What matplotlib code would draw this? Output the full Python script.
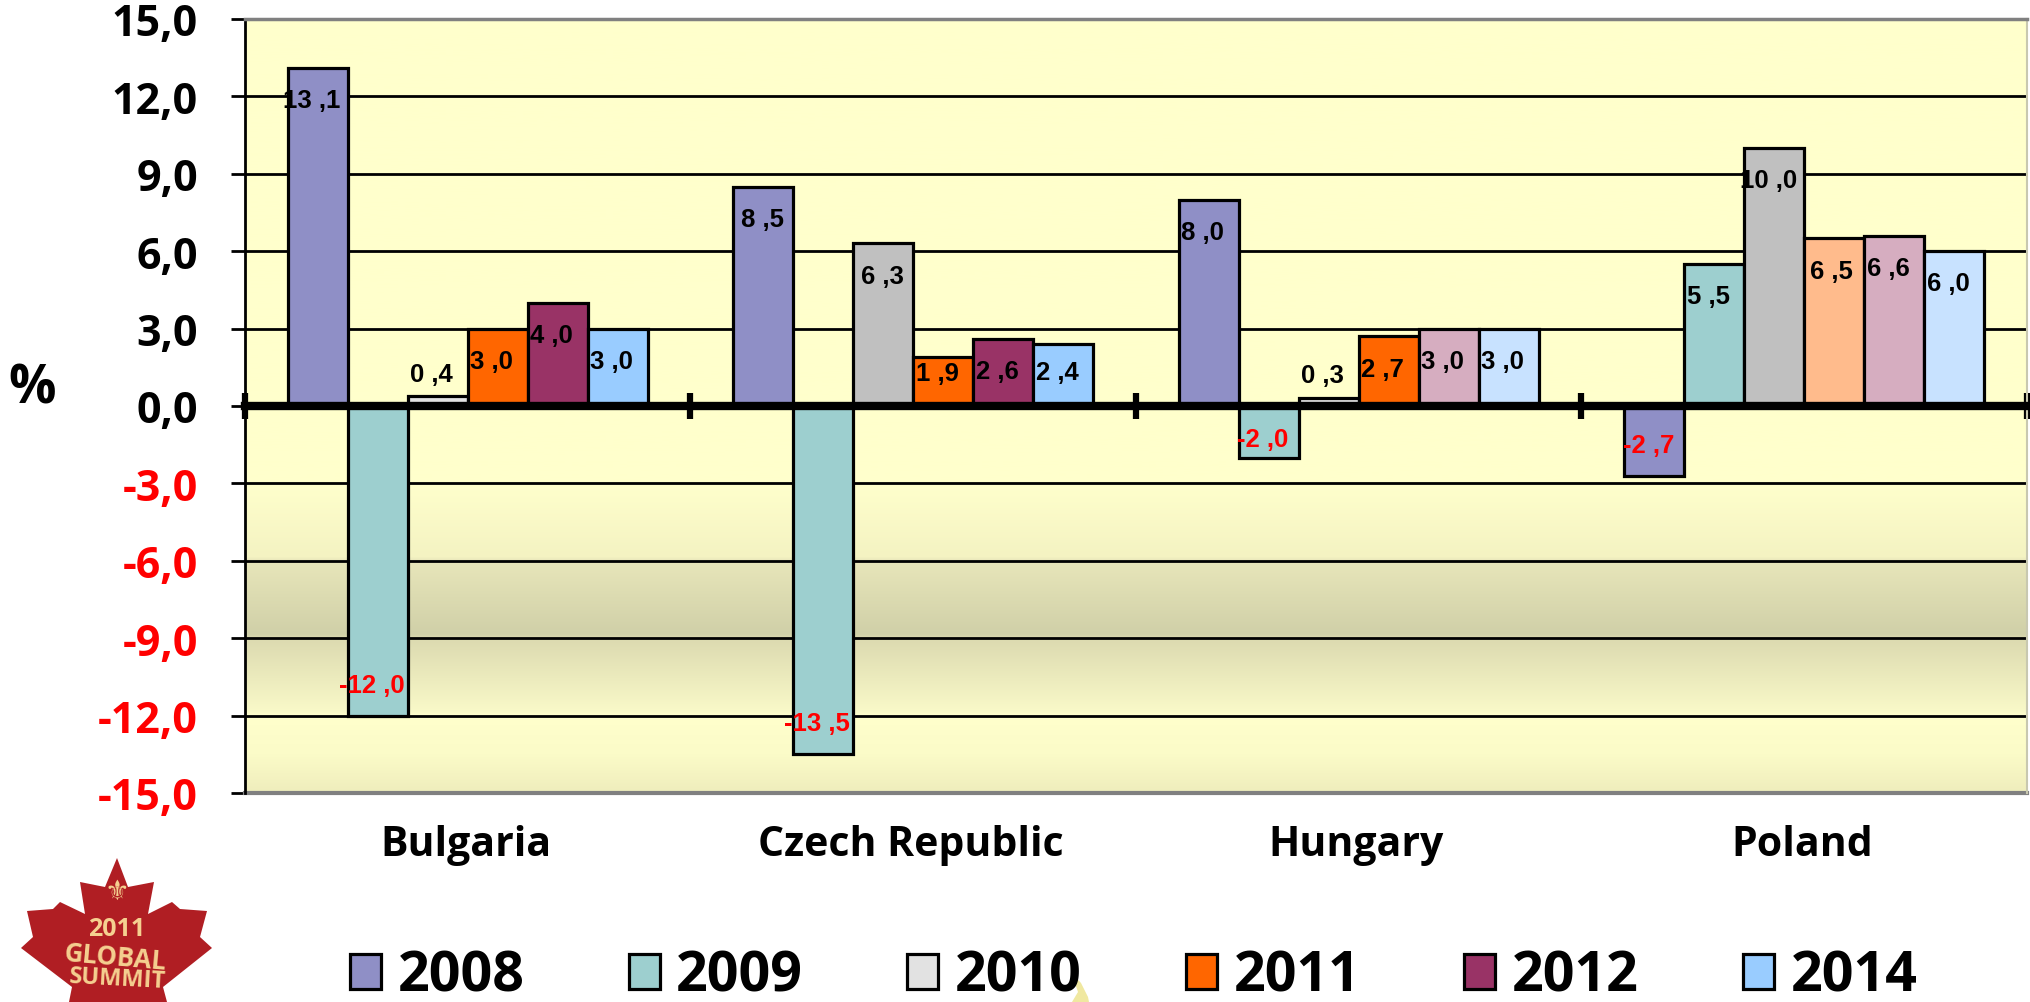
import numpy as np
import matplotlib
matplotlib.use('Agg')
import matplotlib.pyplot as plt
from matplotlib.colors import LinearSegmentedColormap
from matplotlib.patches import Polygon

W, H = 2031, 1003
BOLD = 'Open Sans'

countries = ['Bulgaria', 'Czech Republic', 'Hungary', 'Poland']
years = ['2008', '2009', '2010', '2011', '2012', '2014']
v2008 = [13.1, 8.5, 8.0, -2.7]
v2009 = [-12.0, -13.5, -2.0, 5.5]
v2010 = [0.4, 6.3, 0.3, 10.0]
v2011 = [3.0, 1.9, 2.7, 6.5]
v2012 = [4.0, 2.6, 3.0, 6.6]
v2014 = [3.0, 2.4, 3.0, 6.0]
yticks = [15, 12, 9, 6, 3, 0, -3, -6, -9, -12, -15]

series = [v2008, v2009, v2010, v2011, v2012, v2014]

# one colour per country, the chart changes shades from bar to bar
colors = [
    ['#8F8FC6', '#8F8FC6', '#8F8FC6', '#8F8FC6'],
    ['#9DCFCF', '#9DCFCF', '#9DCFCF', '#9DCFCF'],
    ['#E2E2E2', '#C0C0C0', '#E2E2E2', '#C0C0C0'],
    ['#FF6600', '#FF6600', '#FF6600', '#FFBB8C'],
    ['#993366', '#993366', '#D6ADC0', '#D6ADC0'],
    ['#99CCFF', '#99CCFF', '#C8E2FF', '#C8E2FF'],
]

# label y distance from bar end, where it differs from the usual 1.25
label_dy = {(0, 2): 0.85, (2, 2): 0.9, (1, 3): -0.63, (1, 5): -1.1, (2, 1): 0.72}
label_dx = {(1, 0): -1, (1, 2): -1, (3, 3): -3}

fig = plt.figure(figsize=(W / 100, H / 100), dpi=100, facecolor='white')

# pixel overlay behind the chart for the logo and the yellow blob
ov = fig.add_axes([0, 0, 1, 1], zorder=-1)
ov.set_xlim(0, W)
ov.set_ylim(H, 0)
ov.axis('off')

ax = fig.add_axes([245 / W, 1 - 794 / H, (2027 - 245) / W, (794 - 20) / H])

# background gradient
stops = [(0.0, '#FFFFCC'), (0.6, '#FFFFCC'), (0.695, '#F4F3C2'), (0.7, '#E8E6BA'),
         (0.795, '#D0D0A8'), (0.8, '#DCDAB0'), (0.895, '#F9F9C8'), (0.9, '#FFFFCC'),
         (0.95, '#FBFBC8'), (1.0, '#EFEDBC')]
cmap = LinearSegmentedColormap.from_list('bg', stops, N=1024)
ax.imshow(np.linspace(0, 1, 1024).reshape(-1, 1), cmap=cmap, aspect='auto',
          extent=(0, 4, -15, 15), zorder=0)

bar_w = 60 / 445.5
centers = np.arange(len(countries)) + 0.5
handles = []
for i, vals in enumerate(series):
    x = centers + (i - 2.5) * bar_w
    bars = ax.bar(x, vals, bar_w, color=colors[i], edgecolor='black', linewidth=2.3,
                  label=years[i], zorder=2)
    handles.append(bars)
    for c, v in enumerate(vals):
        dy = label_dy.get((c, i), -1.25 if v > 0 else 1.2)
        dx = label_dx.get((c, i), -6)
        txt = f'{v:.1f}'.replace('.', ' ,')
        ax.annotate(txt, (x[c], v + dy), xytext=(dx * 0.72, 0), textcoords='offset points',
                    ha='center', va='center', fontsize=18.5, fontweight='bold',
                    family='Liberation Sans', color='red' if v < 0 else 'black', zorder=4)

ax.set_xlim(0, 4)
ax.set_ylim(-15, 15)
ax.set_yticks(yticks)
ax.set_yticklabels([f'{t:.1f}'.replace('.', ',') for t in yticks], fontsize=31,
                   fontweight='bold', family=BOLD)
for lab, t in zip(ax.get_yticklabels(), yticks):
    lab.set_color('red' if t < 0 else 'black')
ax.tick_params(axis='y', length=10, width=2, pad=24, color='black')
ax.set_axisbelow(True)
ax.grid(axis='y', color='black', linewidth=2)
ax.set_ylabel('%', rotation=0, fontsize=38, fontweight='bold', family=BOLD, va='center', ha='center')
ax.yaxis.set_label_coords((32 - 245) / (2027 - 245), (794 - 390) / 774)

# axis on zero, ticks between the countries
ax.spines['bottom'].set_position(('data', 0))
ax.spines['bottom'].set_linewidth(6)
ax.spines['bottom'].set_zorder(3)
ax.set_xticks(range(5))
ax.set_xticklabels([])
ax.tick_params(axis='x', direction='inout', length=19, width=4.5, color='black')
ax.spines['left'].set_linewidth(2)
ax.spines['top'].set_color('#808080')
ax.spines['top'].set_linewidth(2.5)
ax.spines['right'].set_color('#C8C8B0')
ax.spines['right'].set_linewidth(1.5)
ax.axhline(-15, color='#808080', linewidth=3, zorder=1.5, clip_on=False)

for c, name in zip(centers, countries):
    ax.text(c - 0.005, -16.98, name, ha='center', va='center', fontsize=29.5, fontweight='bold',
            family=BOLD, clip_on=False)

leg = fig.legend(handles=handles, labels=years, ncol=6, frameon=False, loc='lower left',
                 bbox_to_anchor=(350 / W, 1 - 1005 / H), borderpad=0, borderaxespad=0,
                 prop={'family': BOLD, 'weight': 'bold', 'size': 40},
                 handlelength=0.56, handleheight=0.6, handletextpad=0.3, columnspacing=1.87)

# maple leaf logo
leaf = [(117, 859), (128, 888), (154, 883), (148, 915), (172, 903), (180, 910), (207, 912),
        (200, 938), (212, 949), (163, 988), (167, 1003), (69, 1003), (72, 988), (21, 949),
        (33, 938), (27, 912), (53, 910), (60, 903), (85, 915), (80, 883), (105, 888)]
ov.add_patch(Polygon(leaf, closed=True, facecolor='#B01E23', edgecolor='none'))
logo_text = '#F5D090'
ov.text(117, 892, '\u269c', color=logo_text, fontsize=20, family='DejaVu Sans',
        ha='center', va='center')
ov.text(117, 930, '2011', color=logo_text, fontsize=18, fontweight='bold', family=BOLD,
        ha='center', va='center')
ov.text(115, 958, 'GLOBAL', color=logo_text, fontsize=18.5, fontweight='bold', family=BOLD,
        ha='center', va='center', rotation=-5)
ov.text(118, 980, 'SUMMIT', color=logo_text, fontsize=17, fontweight='bold', family=BOLD,
        ha='center', va='center', rotation=-3)

blob = [(1071, 973), (1081, 984), (1088, 998), (1089, 1003), (1072, 1003), (1078, 993)]
ov.add_patch(Polygon(blob, closed=True, facecolor='#F0E8A0', edgecolor='none'))

fig.savefig('out.png', dpi=100)
